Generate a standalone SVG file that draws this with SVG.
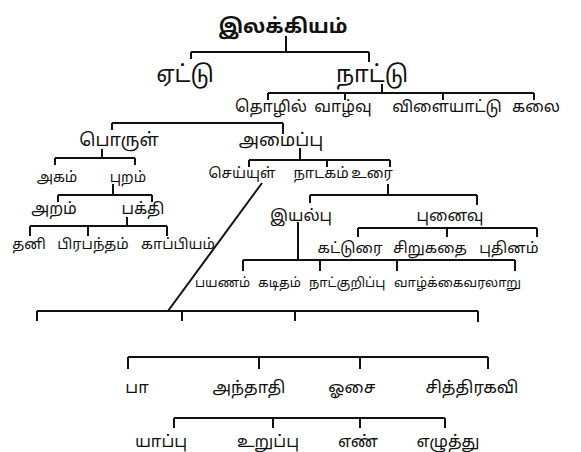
<svg xmlns="http://www.w3.org/2000/svg" width="581" height="452" viewBox="0 0 581 452">
<style>
text{font-family:"Noto Sans Tamil","Lohit Tamil","Noto Sans",sans-serif;fill:#111;text-anchor:middle}
.t{font-size:20px;font-weight:700}
.l{font-size:18px}
.xl{font-size:23px}
.m{font-size:16px}
.mm{font-size:15px}
.b{font-size:16.5px}
.s{font-size:14.5px}
.xs{font-size:13px;text-anchor:start}
#connectors path{stroke:#111;stroke-width:2;fill:none}
</style>
<rect width="581" height="452" fill="#fff"/>
<g id="connectors">
<path d="M286 36V52M191 52H369M191 52V59M369 52V62"/>
<path d="M382 84V93M268 93H534M268 93V100M345 93V100M443 93V100M534 93V100"/>
<path d="M112 123H283M112 123V130M283 123V134"/>
<path d="M300 148V160M249 160H390M249 160V167M327 160V167M390 160V167"/>
<path d="M102 149V158M55 158H135M55 158V165M135 158V165"/>
<path d="M113 184V195M58 195H152M58 195V202M152 195V202"/>
<path d="M127 217V226M30 226H167M30 226V236M88 226V236M167 226V236"/>
<path d="M388 184V195M310 195H477M310 195V203M477 195V205"/>
<path d="M358 228H537M358 228V237M447 228V237M537 228V237"/>
<path d="M298 222V260M243 260H515M243 260V271M320 260V271M397 260V271M515 260V271"/>
<path d="M262 183L168 311"/>
<path d="M37 311H478M37 311V321M182 311V321M295 311V321M478 311V322"/>
<path d="M128 357H488M128 357V369M259 357V369M360 357V369M488 357V369"/>
<path d="M174 418H445M174 418V428M273 418V428M360 418V428M445 418V428"/>
</g>
<g id="n-ilakkiyam"><text class="t" x="283" y="33">இலக்கியம்</text></g>
<g id="n-eattu"><text class="xl" x="185" y="82">ஏட்டு</text></g>
<g id="n-naattu"><text class="xl" x="372" y="82">நாட்டு</text></g>
<g id="n-thozhil"><text class="m" x="271" y="112">தொழில்</text></g>
<g id="n-vaazhvu"><text class="m" x="343" y="112">வாழ்வு</text></g>
<g id="n-vilaiyaattu"><text class="m" x="447" y="112">விளையாட்டு</text></g>
<g id="n-kalai"><text class="m" x="536" y="112">கலை</text></g>
<g id="n-porul"><text class="l" x="119" y="146">பொருள்</text></g>
<g id="n-amaippu"><text class="l" x="281" y="146">அமைப்பு</text></g>
<g id="n-akam"><text class="s" x="57" y="182">அகம்</text></g>
<g id="n-puram"><text class="s" x="128" y="182">புறம்</text></g>
<g id="n-aram"><text class="m" x="54" y="214">அறம்</text></g>
<g id="n-bhakthi"><text class="m" x="143" y="214">பக்தி</text></g>
<g id="n-thani"><text class="s" x="29" y="249">தனி</text></g>
<g id="n-prabandham"><text class="s" x="93" y="249">பிரபந்தம்</text></g>
<g id="n-kaappiyam"><text class="s" x="178" y="249">காப்பியம்</text></g>
<g id="n-seyyul"><text class="s" x="242" y="178">செய்யுள்</text></g>
<g id="n-naadakam"><text class="s" x="321" y="178">நாடகம்</text></g>
<g id="n-urai"><text class="s" x="372" y="178">உரை</text></g>
<g id="n-iyalpu"><text class="m" x="301" y="221">இயல்பு</text></g>
<g id="n-punaivu"><text class="m" x="450" y="221">புனைவு</text></g>
<g id="n-katturai"><text class="mm" x="350" y="253">கட்டுரை</text></g>
<g id="n-sirukathai"><text class="mm" x="430" y="253">சிறுகதை</text></g>
<g id="n-puthinam"><text class="mm" x="509" y="253">புதினம்</text></g>
<g id="n-payanam"><text class="xs" x="195" y="287">பயணம்</text></g>
<g id="n-kaditham"><text class="xs" x="258" y="287">கடிதம்</text></g>
<g id="n-naatkurippu"><text class="xs" x="309" y="287">நாட்குறிப்பு</text></g>
<g id="n-vaazhkkai"><text class="xs" x="394" y="287">வாழ்க்கைவரலாறு</text></g>
<g id="n-paa"><text class="b" x="137" y="393">பா</text></g>
<g id="n-anthaathi"><text class="b" x="249" y="393">அந்தாதி</text></g>
<g id="n-osai"><text class="b" x="352" y="393">ஓசை</text></g>
<g id="n-chithirakavi"><text class="b" x="472" y="393">சித்திரகவி</text></g>
<g id="n-yaappu"><text class="b" x="161" y="447">யாப்பு</text></g>
<g id="n-uruppu"><text class="b" x="268" y="447">உறுப்பு</text></g>
<g id="n-en"><text class="b" x="358" y="447">எண்</text></g>
<g id="n-ezhuthu"><text class="b" x="448" y="447">எழுத்து</text></g>
</svg>
